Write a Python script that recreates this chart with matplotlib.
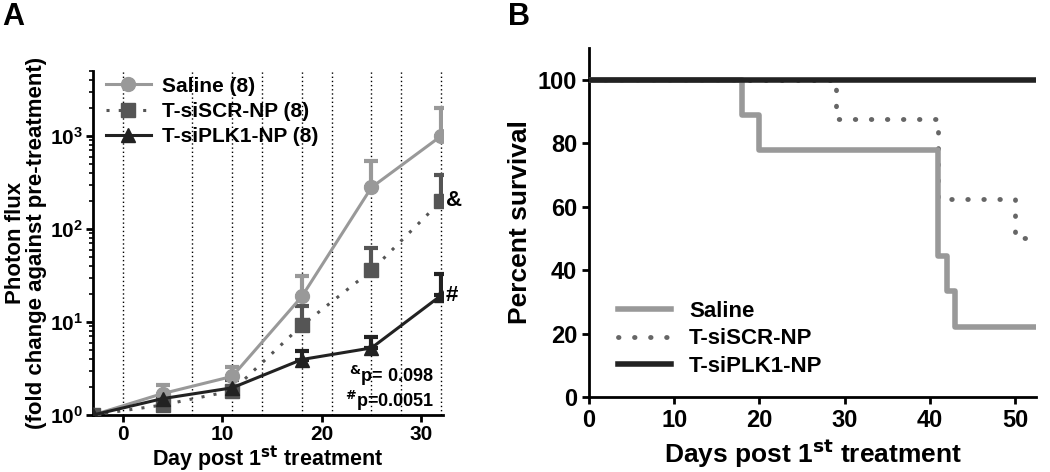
"""
Photon flux (A) and survival (B) panels
"""
import numpy as np
import matplotlib
matplotlib.use('Agg')
import matplotlib.pyplot as plt
from matplotlib import rcParams
from matplotlib.ticker import LogLocator, NullFormatter

rcParams['font.family'] = ['Liberation Sans', 'DejaVu Sans']
rcParams['font.weight'] = 'bold'
rcParams['axes.labelweight'] = 'bold'
rcParams['mathtext.default'] = 'bf'

# ---- panel A data ----
DAYS = [-3, 4, 11, 18, 25, 32]
TREAT_DAYS = [0, 7, 11, 14, 18, 21, 25, 28, 32]

SALINE_MEAN = [1.0, 1.7, 2.6, 18.8, 280, 1000]
SALINE_TOP = [1.0, 2.1, 3.3, 31.6, 540, 1980]
SCR_MEAN = [1.0, 1.28, 1.82, 9.2, 35.8, 200]
SCR_TOP = [1.0, 1.3, 2.4, 14.7, 62, 385]
PLK1_MEAN = [1.0, 1.5, 1.96, 3.95, 5.26, 19.3]
PLK1_TOP = [1.0, 1.5, 2.0, 4.85, 6.9, 33]

LABELS_A = ['Saline (8)', 'T-siSCR-NP (8)', 'T-siPLK1-NP (8)']
COLORS = ['#999999', '#555555', '#222222']

# ---- panel B data (step survival curves) ----
SAL_T = [0, 18, 20, 41, 42, 43, 52.3]
SAL_S = [100, 88.9, 77.8, 44.4, 33.3, 22.2, 22.2]
SCR_T = [0, 29, 41, 50, 52.3]
SCR_S = [100, 87.5, 62.5, 50, 50]
PLK_T = [0, 52.3]
PLK_S = [100, 100]
LABELS_B = ['Saline', 'T-siSCR-NP', 'T-siPLK1-NP']

fig = plt.figure(figsize=(10.5, 4.72), dpi=100)

# ================= panel A =================
ax = fig.add_axes([0.0886, 0.1208, 0.3334, 0.7288])
for d in TREAT_DAYS:
    ax.axvline(d, color='black', linestyle=(0, (1, 2)), linewidth=1.0, zorder=1)

series = [(SALINE_MEAN, SALINE_TOP, 'o', '-'),
          (SCR_MEAN, SCR_TOP, 's', (0, (1, 3))),
          (PLK1_MEAN, PLK1_TOP, '^', '-')]
for (mean, top, mk, ls), lab, c in zip(series, LABELS_A, COLORS):
    mean = np.array(mean)
    up = np.array(top) - mean
    ax.errorbar(DAYS, mean, yerr=[np.zeros_like(up), up], fmt='none',
                ecolor=c, elinewidth=3, capsize=5, capthick=3, zorder=3)
    ax.plot(DAYS, mean, color=c, linestyle=ls, linewidth=2.2, marker=mk,
            markersize=10, label=lab, zorder=4)

ax.set_yscale('log')
ax.set_ylim(1, 5000)
ax.set_xlim(-3, 32.2)
ax.set_xticks([0, 10, 20, 30])
ax.yaxis.set_minor_locator(LogLocator(base=10, subs=np.arange(2, 10)))
ax.yaxis.set_minor_formatter(NullFormatter())
ax.spines['top'].set_visible(False)
ax.spines['right'].set_visible(False)
for s in ['left', 'bottom']:
    ax.spines[s].set_linewidth(2)
ax.tick_params(axis='both', which='major', labelsize=15, width=2, length=5, pad=2)
ax.tick_params(axis='y', which='minor', width=1.2, length=3)
ax.set_xlabel('Day post 1$^{st}$ treatment', fontsize=15.5, labelpad=0)
ax.set_ylabel('Photon flux\n(fold change against pre-treatment)', fontsize=16,
              labelpad=2, linespacing=1.0)

ax.text(32.5, SCR_MEAN[-1], '&', fontsize=16, va='center', ha='left')
ax.text(32.5, PLK1_MEAN[-1], '#', fontsize=16, va='center', ha='left')
ax.text(31.3, 2.62, '$^{&}$p= 0.098', fontsize=13, ha='right', va='center')
ax.text(31.3, 1.42, '$^{\\#}$p=0.0051', fontsize=13, ha='right', va='center')

leg = ax.legend(loc='upper left', bbox_to_anchor=(0.0, 1.02), frameon=False,
                fontsize=15, handlelength=2.2, handletextpad=0.5,
                labelspacing=0.3, borderaxespad=0.2)

# ================= panel B =================
bx = fig.add_axes([0.561, 0.159, 0.426, 0.739])
bx.step(SAL_T, SAL_S, where='post', color='#999999', linewidth=4,
        label=LABELS_B[0], zorder=3)
bx.step(SCR_T, SCR_S, where='post', color='#666666', linewidth=3.5,
        linestyle=(0, (0.1, 3.2)), dash_capstyle='round', label=LABELS_B[1], zorder=2)
bx.step(PLK_T, PLK_S, where='post', color='#222222', linewidth=4,
        label=LABELS_B[2], zorder=4)
bx.set_xlim(0, 52.5)
bx.set_ylim(0, 110)
bx.set_xticks([0, 10, 20, 30, 40, 50])
bx.set_yticks([0, 20, 40, 60, 80, 100])
bx.spines['top'].set_visible(False)
bx.spines['right'].set_visible(False)
for s in ['left', 'bottom']:
    bx.spines[s].set_linewidth(2)
bx.tick_params(axis='both', labelsize=17, width=2, length=5)
bx.set_xlabel('Days post 1$^{st}$ treatment', fontsize=19, labelpad=4)
bx.set_ylabel('Percent survival', fontsize=19, labelpad=4)
bx.legend(loc='lower left', bbox_to_anchor=(0.02, 0.0), frameon=False,
          fontsize=16, handlelength=2.4, handletextpad=0.8, labelspacing=0.3)

fig.text(0.002, 0.995, 'A', fontsize=22, fontweight='bold', va='top', ha='left')
fig.text(0.484, 0.995, 'B', fontsize=22, fontweight='bold', va='top', ha='left')

plt.savefig('out.png', dpi=100)
plt.close()
